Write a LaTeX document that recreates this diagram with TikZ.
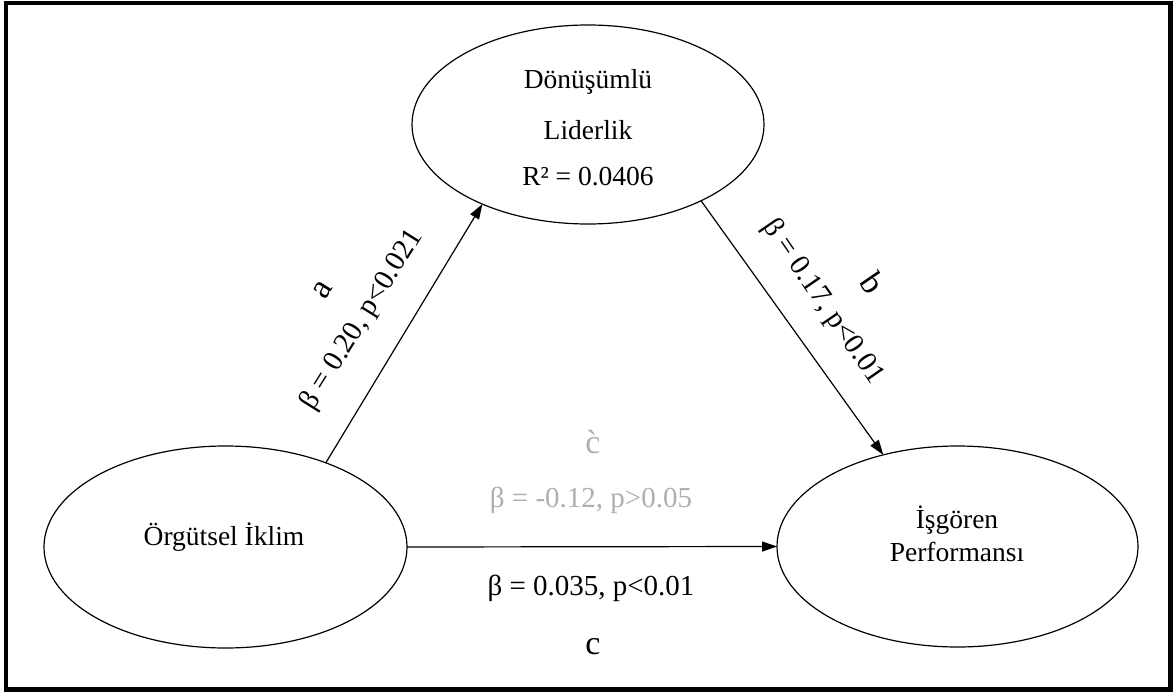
\documentclass[tikz,border=0pt]{standalone}
\usepackage{fontspec}
\setmainfont{Liberation Serif}
\usetikzlibrary{shapes.geometric,arrows.meta}
\definecolor{lightgrey}{RGB}{175,175,175}
\tikzset{
  var/.style={ellipse,draw,line width=1.2pt,inner sep=0pt,outer sep=0pt},
  arr/.style={line width=1.2pt,-{Triangle[length=15pt,width=10pt]}},
  txt/.style={inner sep=0pt,font=\fontsize{27.5}{32}\selectfont},
  coef/.style={inner sep=0pt,font=\fontsize{29}{34}\selectfont},
  letter/.style={inner sep=0pt,font=\fontsize{34}{38}\selectfont},
  grey/.style={text=lightgrey}
}
\begin{document}
\begin{tikzpicture}[x=1pt,y=-1pt]
\useasboundingbox (0,0) rectangle (1175,695);
\draw[line width=4.5pt] (6,3) rectangle (1170.5,689.5);
% variables
\node[var,minimum width=352pt,minimum height=199pt] (top) at (588,124.5) {};
\node[var,minimum width=363pt,minimum height=202pt] (left) at (225.5,547) {};
\node[var,minimum width=361pt,minimum height=201pt] (right) at (957.5,546.5) {};
% texts in ellipses
\node[txt] (t1) at (588,82) {Dönüşümlü};
\node[txt] (t2) at (588,130) {Liderlik};
\node[txt] (t3) at (588,177) {R² = 0.0406};
\node[txt] (l1) at (224,537) {Örgütsel İklim};
\node[txt] (r1) at (957,520) {İşgören};
\node[txt] (r2) at (957,552) {Performansı};
% connectors
\draw[arr] (left.40.5) -- (top.217.5);
\draw[arr] (top.326.9) -- (right.129.2);
\draw[arr] (left.east) -- (right.west);
% path labels
\node[letter,rotate=58] (la) at (323,290) {a};
\node[coef,rotate=58] (pa) at (362,320) {β = 0.20, p<0.021};
\node[letter,rotate=-55.5] (lb) at (873,283) {b};
\node[coef,rotate=-55.5] (pb) at (823,302) {β = 0.17, p<0.01};
\node[letter,grey] (lcp) at (593,442) {\`c};
\node[coef,grey] (pcp) at (591,500) {β = -0.12, p>0.05};
\node[coef] (pc) at (591,588) {β = 0.035, p<0.01};
\node[letter] (lc) at (593,647) {c};
\end{tikzpicture}
\end{document}
